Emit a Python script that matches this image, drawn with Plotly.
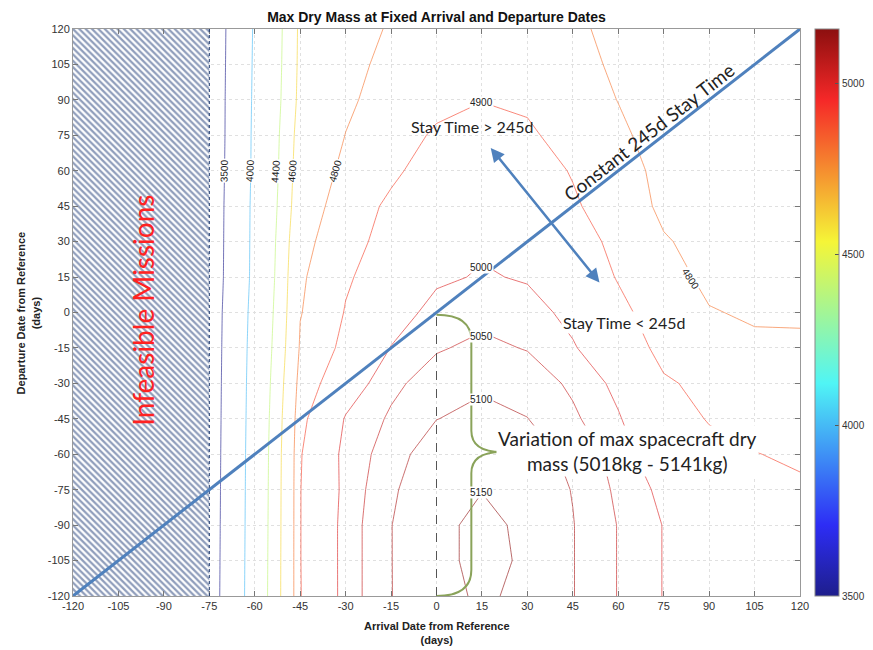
import plotly.graph_objects as go
from plotly.colors import sample_colorscale, unlabel_rgb

# arrival date (x) and departure date (y) from reference, days
arrival_days = [-75, -60, -45, -30, -15, 0, 15, 30, 45, 60, 75, 90, 105, 120]
departure_days = [120, 105, 90, 75, 60, 45, 30, 15, 0, -15, -30, -45, -60, -75, -90, -105, -120]

# max dry mass (kg), one row per departure date (top row = +120 days)
dry_mass = [
    [3190, 4040, 4635, 4730, 4815, 4850, 4870, 4860, 4820, 4770, 4730, 4700, 4680, 4665],
    [3195, 4050, 4640, 4760, 4835, 4870, 4890, 4880, 4830, 4785, 4745, 4715, 4695, 4680],
    [3200, 4060, 4650, 4780, 4850, 4880, 4898, 4888, 4850, 4798, 4760, 4730, 4710, 4695],
    [3200, 4070, 4680, 4802, 4865, 4910, 4930, 4912, 4870, 4818, 4760, 4735, 4715, 4705],
    [3210, 4075, 4700, 4830, 4888, 4930, 4950, 4935, 4895, 4838, 4775, 4745, 4725, 4715],
    [3220, 4090, 4720, 4865, 4912, 4950, 4970, 4955, 4910, 4860, 4780, 4755, 4740, 4730],
    [3225, 4095, 4760, 4880, 4920, 4975, 4992, 4980, 4935, 4880, 4808, 4770, 4755, 4745],
    [3230, 4100, 4785, 4890, 4945, 4990, 5005, 4995, 4955, 4895, 4835, 4780, 4770, 4760],
    [3250, 4130, 4795, 4905, 4970, 5020, 5035, 5020, 4985, 4920, 4860, 4805, 4790, 4780],
    [3255, 4150, 4815, 4925, 5002, 5045, 5062, 5047, 5005, 4955, 4875, 4850, 4815, 4825],
    [3260, 4165, 4850, 4962, 5037, 5076, 5092, 5080, 5040, 4985, 4910, 4880, 4860, 4850],
    [3265, 4175, 4880, 5005, 5058, 5099, 5115, 5101, 5060, 5005, 4940, 4895, 4875, 4865],
    [3270, 4185, 4895, 5019, 5074, 5135, 5145, 5128, 5085, 5030, 4950, 4925, 4902, 4890],
    [3275, 4190, 4898, 5017, 5092, 5140, 5149, 5132, 5098, 5040, 4985, 4950, 4925, 4910],
    [3280, 4195, 4898, 5022, 5099, 5140, 5160, 5142, 5102, 5048, 4998, 4960, 4935, 4920],
    [3285, 4200, 4898, 5022, 5099, 5138, 5162, 5144, 5102, 5048, 4998, 4962, 4938, 4922],
    [3290, 4205, 4897, 5022, 5099, 5132, 5158, 5138, 5102, 5048, 4998, 4962, 4938, 4922],
]

contour_levels = [3500, 4000, 4400, 4600, 4800, 4900, 5000, 5050, 5100, 5150]

# where the contour labels sit (level, arrival, departure, angle)
label_level = [3500, 4000, 4400, 4600, 4800, 4900, 5000, 5050, 5100, 5150, 4800]
label_x = [-70, -61.5, -53, -47.5, -33.3, 15, 15, 15, 15, 15, 84]
label_y = [60, 60, 60, 60, 60, 89, 19, -10, -37, -76, 14]
label_angle = [-89, -88, -86, -86, -74, 0, 0, 0, 0, 0, 57]

tick_vals = [-120, -105, -90, -75, -60, -45, -30, -15, 0, 15, 30, 45, 60, 75, 90, 105, 120]
tick_labels = ['-120', '-105', '-90', '-75', '-60', '-45', '-30', '-15', '0',
               '15', '30', '45', '60', '75', '90', '105', '120']
colorbar_ticks = [3500, 4000, 4500, 5000]

AXIS_MIN, AXIS_MAX = -120, 120
INFEASIBLE_LIMIT = -75
CMIN, CMAX = 3500, 5158

JET = [[0.0, 'rgb(30,30,140)'], [0.125, 'rgb(45,45,245)'], [0.375, 'rgb(80,245,245)'],
       [0.625, 'rgb(245,245,55)'], [0.875, 'rgb(245,40,40)'], [1.0, 'rgb(140,15,15)']]
BLUE = '#4F81BD'
CALIBRI = 'Lato, Open Sans, sans-serif'
HELV = 'Liberation Sans, Arial, sans-serif'


def line_color(level, alpha=0.62):
    c = sample_colorscale(JET, [(level - CMIN) / (CMAX - CMIN)])[0]
    r, g, b = unlabel_rgb(c)
    return 'rgba(%d,%d,%d,%.2f)' % (r, g, b, alpha)


fig = go.Figure()

# hatched infeasible region
fig.add_trace(go.Scatter(
    x=[AXIS_MIN, INFEASIBLE_LIMIT, INFEASIBLE_LIMIT, AXIS_MIN, AXIS_MIN],
    y=[AXIS_MIN, AXIS_MIN, AXIS_MAX, AXIS_MAX, AXIS_MIN],
    mode='lines', line=dict(width=0), fill='toself',
    fillpattern=dict(shape='\\', fgcolor='#1f3c78', bgcolor='white', size=4.5, solidity=0.5),
    hoverinfo='skip', showlegend=False))

# one contour trace per (non uniform) level
for level in contour_levels:
    fig.add_trace(go.Contour(
        x=arrival_days, y=departure_days, z=dry_mass,
        autocontour=False,
        contours=dict(start=level, end=level, size=1, coloring='none', showlabels=False),
        line=dict(color=line_color(level), width=1, smoothing=0),
        showscale=False, hoverinfo='skip'))

# colorbar only
fig.add_trace(go.Scatter(
    x=[None], y=[None], mode='markers',
    marker=dict(color=[CMIN], cmin=CMIN, cmax=CMAX, colorscale=JET, showscale=True,
                colorbar=dict(x=1.02, xanchor='left', xpad=0, y=0.5, yanchor='middle',
                              len=1, lenmode='fraction', ypad=0, thickness=24,
                              outlinewidth=1, outlinecolor='#888',
                              tickvals=colorbar_ticks, ticks='inside', ticklen=4,
                              tickcolor='#555', tickfont=dict(size=10, color='#333', family=HELV))),
    hoverinfo='skip', showlegend=False))

axis_style = dict(range=[AXIS_MIN, AXIS_MAX], tickvals=tick_vals, ticktext=tick_labels,
                  ticks='inside', ticklen=5, tickcolor='#777', showline=True,
                  linecolor='#999', linewidth=1, mirror='ticks', showgrid=True,
                  gridcolor='#e0e0e0', griddash='dot', zeroline=False,
                  tickfont=dict(size=11, color='#333', family=HELV))
fig.update_xaxes(**axis_style)
fig.update_yaxes(**axis_style)

shapes = [
    dict(type='line', x0=INFEASIBLE_LIMIT, x1=INFEASIBLE_LIMIT, y0=AXIS_MIN, y1=AXIS_MAX,
         xref='x', yref='y', line=dict(color='#1d3a70', width=1, dash='dot')),
    dict(type='line', x0=0, x1=0, y0=AXIS_MIN, y1=-1, xref='x', yref='y',
         line=dict(color='#555', width=1, dash='dash')),
    dict(type='line', x0=AXIS_MIN, y0=AXIS_MIN, x1=AXIS_MAX, y1=AXIS_MAX, xref='x', yref='y',
         line=dict(color=BLUE, width=3)),
    dict(type='path', xref='x', yref='y', line=dict(color='#8aa35a', width=2),
         path='M 0,-1 Q 11.5,-1 11.5,-12 L 11.5,-50 Q 11.5,-59 21.5,-59 '
              'Q 11.5,-59 11.5,-68 L 11.5,-109 Q 11.5,-120 0,-120'),
]

annotations = []
for lv, lx, ly, la in zip(label_level, label_x, label_y, label_angle):
    annotations.append(dict(text=str(lv), x=lx, y=ly, xref='x', yref='y', textangle=la,
                            showarrow=False, bgcolor='white', borderpad=0,
                            font=dict(family=HELV, size=10, color='#222')))

annotations += [
    dict(text='Infeasible Missions', x=-97, y=1, xref='x', yref='y', textangle=-90,
         showarrow=False, font=dict(family=CALIBRI, size=28, color='#ff2222')),
    dict(text='Constant 245d Stay Time', x=70.3, y=76.5, xref='x', yref='y', textangle=-38,
         showarrow=False, font=dict(family=CALIBRI, size=19, color='#222')),
    dict(text='', x=53.8, y=12.7, ax=17.5, ay=70.3, xref='x', yref='y', axref='x', ayref='y',
         showarrow=True, arrowhead=2, startarrowhead=2, arrowside='end+start',
         arrowsize=1.1, startarrowsize=1.1, arrowwidth=2.5, arrowcolor=BLUE),
    dict(text='Stay Time > 245d', x=11.6, y=78.7, xref='x', yref='y', showarrow=False,
         font=dict(family=CALIBRI, size=16, color='#222')),
    dict(text='Stay Time < 245d', x=62, y=-4.2, xref='x', yref='y', showarrow=False,
         bgcolor='white', font=dict(family=CALIBRI, size=16, color='#222')),
    dict(text='Variation of max spacecraft dry<br>mass (5018kg - 5141kg)', x=63, y=-58.8,
         xref='x', yref='y', showarrow=False, bgcolor='white',
         font=dict(family=CALIBRI, size=19, color='#222')),
    dict(text='<b>Arrival Date from Reference</b><br><b>(days)</b>', x=0.5, y=-0.066,
         xref='paper', yref='paper', yanchor='middle', showarrow=False,
         font=dict(family=HELV, size=11, color='#222')),
    dict(text='<b>Departure Date from Reference</b><br><b>(days)</b>', x=-0.062, y=0.5,
         xref='paper', yref='paper', xanchor='center', yanchor='middle', textangle=-90,
         showarrow=False, font=dict(family=HELV, size=11, color='#222')),
]

# the page body adds an 8px margin, so the figure is sized to fit inside it
fig.update_layout(
    width=857, height=642,
    margin=dict(l=65, r=65, t=21, b=54, autoexpand=False),
    paper_bgcolor='white', plot_bgcolor='white',
    title=dict(text='<b>Max Dry Mass at Fixed Arrival and Departure Dates</b>',
               x=0.5, xref='paper', y=1 - 9 / 642, yref='container', yanchor='middle',
               font=dict(family=HELV, size=14, color='#111')),
    showlegend=False,
    shapes=shapes,
    annotations=annotations,
)

fig.write_html("out.html")
